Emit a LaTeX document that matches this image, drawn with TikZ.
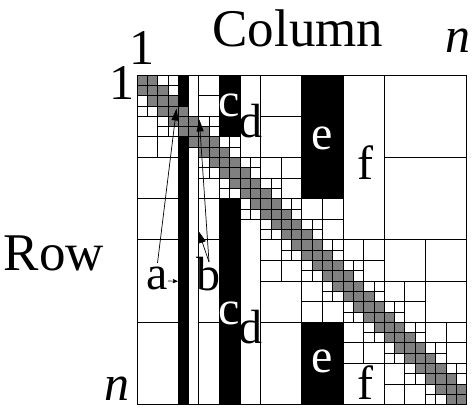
\documentclass[tikz,border=0pt]{standalone}
\usepackage{fontspec}
\setmainfont{Liberation Serif}
\usetikzlibrary{arrows.meta}
\begin{document}
\begin{tikzpicture}[x=1pt,y=1pt,
  blk/.style={draw=black,line width=0.7pt},
  dense/.style={fill=gray,draw=black,line width=0.7pt},
  ustrip/.style={fill=black,draw=black,line width=0.7pt},
  vstrip/.style={fill=white,draw=black,line width=0.7pt},
  lbl/.style={font=\fontsize{48}{48}\selectfont,inner sep=0pt,anchor=base},
  big/.style={font=\fontsize{53}{53}\selectfont,inner sep=0pt,anchor=base},
  idx/.style={font=\fontsize{50}{50}\selectfont,inner sep=0pt,anchor=base},
  arr/.style={line width=0.7pt,-{Triangle[length=12pt,width=7pt]}},
  sarr/.style={line width=0.7pt,-{Triangle[length=5pt,width=4pt]}}]
\useasboundingbox (0,0) rectangle (474,-411);
\fill[white] (0,0) rectangle (474,-411);
\begin{scope}[shift={(137,-75)},x=10.3pt,y=-10.3pt]
  % admissible blocks of the hierarchical partition
  \foreach \h/\n in {8/4,4/8,2/16,1/32}{
    \pgfmathtruncatemacro\nm{\n-1}
    \foreach \i in {0,...,\nm}{
      \foreach \j in {0,...,\nm}{
        \pgfmathtruncatemacro\dd{abs(\i-\j)}
        \pgfmathtruncatemacro\pp{abs(floor(\i/2)-floor(\j/2))}
        \ifnum\dd>1 \ifnum\pp<2
          \draw[blk] (\j*\h,\i*\h) rectangle ++(\h,\h);
        \fi\fi
      }
    }
  }
  % black strips
  \filldraw[ustrip] (4,0) rectangle (5,3);
  \filldraw[ustrip] (4,6) rectangle (5,32);
  \filldraw[ustrip] (8,0) rectangle (10,6);
  \filldraw[ustrip] (8,12) rectangle (10,32);
  \filldraw[ustrip] (16,0) rectangle (20,12);
  \filldraw[ustrip] (16,24) rectangle (20,32);
  % white strips
  \filldraw[vstrip] (5,0) rectangle (6,4);
  \filldraw[vstrip] (5,7) rectangle (6,32);
  \filldraw[vstrip] (10,0) rectangle (12,8);
  \filldraw[vstrip] (10,14) rectangle (12,32);
  \filldraw[vstrip] (20,0) rectangle (24,16);
  \filldraw[vstrip] (20,28) rectangle (24,32);
  % dense diagonal cells
  \foreach \i in {0,...,31}{
    \foreach \o in {-1,0,1}{
      \pgfmathtruncatemacro\jj{\i+\o}
      \ifnum\jj>-1 \ifnum\jj<32
        \filldraw[dense] (\jj,\i) rectangle ++(1,1);
      \fi\fi
    }
  }
  \draw[blk] (0,0) rectangle (32,32);
\end{scope}
% axis labels
\node[big] (col) at (298,-47) {Column};
\node[big] (row) at (54,-271) {Row};
\node[idx] (one1) at (142,-65) {1};
\node[idx] (one2) at (121.5,-100) {1};
\node[idx] (n1) at (458,-53) {\itshape n};
\node[idx] (n2) at (117,-401) {\itshape n};
% block labels
\node[lbl] (la) at (157.5,-290) {a};
\node[lbl] (lb) at (208,-291) {b};
\node[lbl,text=white] (lc1) at (229.5,-116.5) {c};
\node[lbl] (ld1) at (250,-137.5) {d};
\node[lbl,text=white] (lc2) at (229,-325) {c};
\node[lbl] (ld2) at (250,-344) {d};
\node[lbl,text=white] (le1) at (322,-150) {e};
\node[lbl] (lf1) at (365,-180) {f};
\node[lbl,text=white] (le2) at (322,-373) {e};
\node[lbl] (lf2) at (365,-400) {f};
% arrows
\coordinate (aS) at (157.5,-263);
\coordinate (aT) at (176.5,-108.5);
\coordinate (aS2) at (168,-281);
\coordinate (aT2) at (178,-281.3);
\coordinate (bS) at (209,-262);
\coordinate (bT) at (199.3,-119.5);
\coordinate (bT2) at (198.5,-231);
\draw[arr] (aS) -- (aT);
\draw[sarr] (aS2) -- (aT2);
\draw[arr] (bS) -- (bT);
\draw[arr] (bS) -- (bT2);
\end{tikzpicture}
\end{document}
